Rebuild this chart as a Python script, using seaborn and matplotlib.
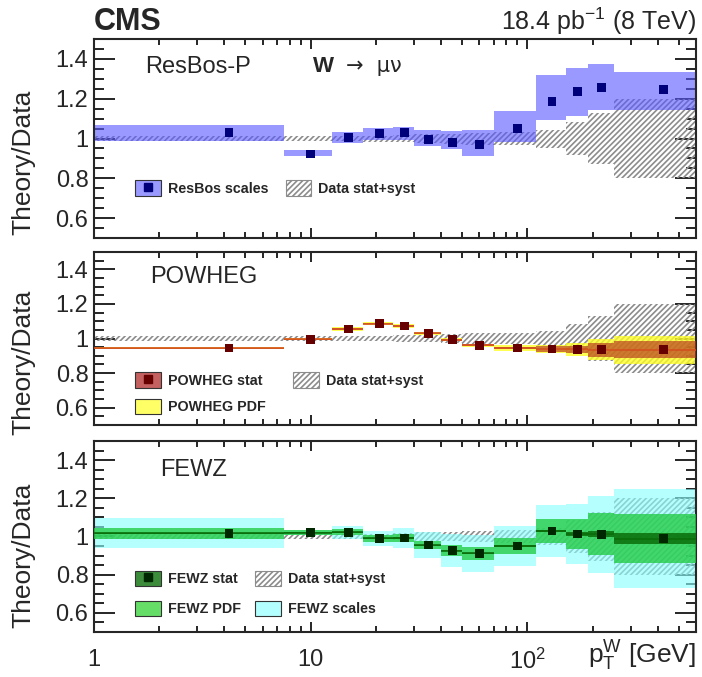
import matplotlib
matplotlib.use("Agg")
import matplotlib.pyplot as plt
import seaborn as sns
import numpy as np
from matplotlib.patches import Patch
from matplotlib.lines import Line2D
from matplotlib.ticker import LogLocator, MultipleLocator, NullFormatter

# -------- DATA --------
bin_edges = [1, 7.5, 12.5, 17.5, 24, 30, 40, 50, 70, 110, 150, 190, 250, 600]
x_center = [4.2, 10, 15, 20.75, 27, 35, 45, 60, 90, 130, 170, 220, 425]

# relative data uncertainty (stat+syst) around 1
data_err = [0.013, 0.013, 0.013, 0.015, 0.018, 0.022, 0.025, 0.03, 0.032, 0.045, 0.085, 0.13, 0.2]

# ResBos-P
resbos = [1.031, 0.922, 1.006, 1.026, 1.029, 0.995, 0.982, 0.972, 1.052, 1.185, 1.236, 1.255, 1.247]
resbos_lo = [0.989, 0.914, 0.979, 0.992, 0.995, 0.963, 0.945, 0.913, 0.983, 1.093, 1.114, 1.145, 1.143]
resbos_hi = [1.068, 0.944, 1.033, 1.054, 1.059, 1.043, 1.038, 1.043, 1.138, 1.319, 1.354, 1.374, 1.334]

# POWHEG
powheg = [0.945, 0.995, 1.055, 1.086, 1.072, 1.030, 0.993, 0.961, 0.945, 0.939, 0.937, 0.936, 0.935]
powheg_stat = [0.003, 0.003, 0.004, 0.004, 0.004, 0.004, 0.005, 0.006, 0.008, 0.015, 0.02, 0.04, 0.05]
powheg_pdf = [0.006, 0.006, 0.01, 0.01, 0.01, 0.01, 0.01, 0.01, 0.015, 0.022, 0.04, 0.06, 0.08]

# FEWZ
fewz = [1.017, 1.020, 1.022, 0.990, 0.992, 0.955, 0.926, 0.912, 0.950, 1.029, 1.013, 1.011, 0.989]
fewz_stat = [0.003, 0.003, 0.003, 0.003, 0.003, 0.003, 0.003, 0.003, 0.003, 0.004, 0.012, 0.016, 0.03]
fewz_pdf = [0.03, 0.013, 0.015, 0.02, 0.02, 0.023, 0.029, 0.034, 0.044, 0.063, 0.078, 0.11, 0.13]
fewz_scale = [0.078, 0.013, 0.035, 0.04, 0.05, 0.067, 0.085, 0.096, 0.105, 0.138, 0.156, 0.2, 0.26]

# -------- STYLE --------
sns.set_style("ticks")
plt.rcParams["font.family"] = ["Liberation Sans", "DejaVu Sans"]
plt.rcParams["mathtext.fontset"] = "custom"
plt.rcParams["mathtext.rm"] = "Liberation Sans"
plt.rcParams["mathtext.it"] = "Liberation Sans:italic"
plt.rcParams["mathtext.bf"] = "Liberation Sans:bold"
plt.rcParams["hatch.linewidth"] = 1.2

hatch_col = "#8c8c8c"
lo_e = np.array(bin_edges[:-1])
hi_e = np.array(bin_edges[1:])
widths = hi_e - lo_e
legend_font = {"family": "Liberation Sans", "weight": "bold", "size": 10.3}

fig = plt.figure(figsize=(7.02, 6.77), dpi=100)
ax1 = fig.add_axes([0.1339, 0.6484, 0.8575, 0.2939])
ax2 = fig.add_axes([0.1339, 0.3722, 0.8575, 0.2555])
ax3 = fig.add_axes([0.1339, 0.0665, 0.8575, 0.2821])


def band(ax, center, err, **kw):
    c = np.array(center)
    e = np.array(err)
    ax.bar(lo_e, 2 * e, bottom=c - e, width=widths, align="edge", linewidth=0, **kw)


def data_band(ax):
    band(ax, np.ones(len(data_err)), data_err, color="none", edgecolor=hatch_col,
         hatch="//////", zorder=1)


def style_axis(ax, ylabel_y, show_x=False):
    ax.set_xscale("log")
    ax.set_xlim(1, 600)
    ax.set_ylim(0.5, 1.5)
    ax.set_yticks([0.6, 0.8, 1.0, 1.2, 1.4], ["0.6", "0.8", "1", "1.2", "1.4"])
    ax.yaxis.set_minor_locator(MultipleLocator(0.05))
    ax.xaxis.set_minor_locator(LogLocator(base=10, subs=np.arange(2, 10)))
    ax.xaxis.set_minor_formatter(NullFormatter())
    ax.set_xticks([1, 10, 100])
    if show_x:
        ax.set_xticklabels(["1", "10", "10$^{2}$"])
    else:
        ax.set_xticklabels([])
    ax.tick_params(axis="both", which="both", direction="in", top=True, right=True,
                   labelsize=17, width=1.4, pad=4)
    ax.tick_params(axis="y", which="major", length=15)
    ax.tick_params(axis="y", which="minor", length=7.5)
    ax.tick_params(axis="x", which="major", length=7, pad=12)
    ax.tick_params(axis="x", which="minor", length=4)
    for sp in ax.spines.values():
        sp.set_linewidth(1.5)
    ax.set_ylabel("Theory/Data", fontsize=19)
    ax.yaxis.set_label_coords(-0.098, ylabel_y)


# -------- PANEL 1: ResBos --------
data_band(ax1)
ax1.bar(lo_e, np.array(resbos_hi) - np.array(resbos_lo), bottom=resbos_lo, width=widths,
        align="edge", color="#5555ff", alpha=0.6, linewidth=0, zorder=2)
sns.scatterplot(x=x_center, y=resbos, marker="s", s=40, color="#00007a", edgecolor="none",
                ax=ax1, zorder=5, legend=False)
style_axis(ax1, 0.38)
ax1.text(0.085, 0.86, "ResBos-P", transform=ax1.transAxes, fontsize=17, va="center")
ax1.text(0.363, 0.86, "W", transform=ax1.transAxes, fontsize=16, fontweight="bold", va="center")
ax1.text(0.418, 0.865, "\u2192  \u03bc\u03bd", transform=ax1.transAxes, fontsize=15,
         va="center", family=["DejaVu Sans"])
h1 = [(Patch(facecolor="#9999ff", edgecolor="#333333", linewidth=0.8),
       Line2D([], [], marker="s", color="#00007a", ls="none", ms=6)),
      Patch(facecolor="white", edgecolor=hatch_col, hatch="//////", linewidth=0.8)]
ax1.legend(h1, ["ResBos scales", "Data stat+syst"], ncol=2, loc="upper left",
           bbox_to_anchor=(0.068, 0.29), frameon=False, prop=legend_font,
           handlelength=1.8, handleheight=1.3, handletextpad=0.5, columnspacing=1.2,
           borderpad=0, borderaxespad=0)

# -------- PANEL 2: POWHEG --------
data_band(ax2)
band(ax2, powheg, powheg_pdf, color="#ffff22", alpha=0.78, zorder=2)
band(ax2, powheg, powheg_stat, color="#b4321e", alpha=0.65, zorder=3)
ax2.hlines(powheg, lo_e, hi_e, color="#d2501e", linewidth=1.2, zorder=3)
sns.scatterplot(x=x_center, y=powheg, marker="s", s=40, color="#660000", edgecolor="none",
                ax=ax2, zorder=5, legend=False)
style_axis(ax2, 0.36)
ax2.text(0.093, 0.855, "POWHEG", transform=ax2.transAxes, fontsize=17, va="center")
h2 = [(Patch(facecolor="#c46060", edgecolor="#333333", linewidth=0.8),
       Line2D([], [], marker="s", color="#660000", ls="none", ms=6)),
      Patch(facecolor="#ffff66", edgecolor="#333333", linewidth=0.8),
      Patch(facecolor="white", edgecolor=hatch_col, hatch="//////", linewidth=0.8)]
ax2.legend(h2, ["POWHEG stat", "POWHEG PDF", "Data stat+syst"], ncol=2, loc="upper left",
           bbox_to_anchor=(0.068, 0.305), frameon=False, prop=legend_font,
           handlelength=1.8, handleheight=1.3, handletextpad=0.5, columnspacing=1.9,
           labelspacing=0.75, borderpad=0, borderaxespad=0)

# -------- PANEL 3: FEWZ --------
data_band(ax3)
band(ax3, fewz, fewz_scale, color="#88ffff", alpha=0.62, zorder=2)
band(ax3, fewz, fewz_pdf, color="#22cc44", alpha=0.78, zorder=3)
band(ax3, fewz, fewz_stat, color="#0a6e0a", alpha=0.85, zorder=4)
ax3.hlines(fewz, lo_e, hi_e, color="#0a6e0a", linewidth=1.2, zorder=4)
sns.scatterplot(x=x_center, y=fewz, marker="s", s=40, color="#002800", edgecolor="none",
                ax=ax3, zorder=5, legend=False)
style_axis(ax3, 0.40, show_x=True)
ax3.text(0.11, 0.85, "FEWZ", transform=ax3.transAxes, fontsize=17, va="center")
h3 = [(Patch(facecolor="#3c8c3c", edgecolor="#333333", linewidth=0.8),
       Line2D([], [], marker="s", color="#002800", ls="none", ms=6)),
      Patch(facecolor="#66dd66", edgecolor="#333333", linewidth=0.8),
      Patch(facecolor="white", edgecolor=hatch_col, hatch="//////", linewidth=0.8),
      Patch(facecolor="#b3ffff", edgecolor="#333333", linewidth=0.8)]
ax3.legend(h3, ["FEWZ stat", "FEWZ PDF", "Data stat+syst", "FEWZ scales"], ncol=2,
           loc="upper left", bbox_to_anchor=(0.068, 0.32), frameon=False, prop=legend_font,
           handlelength=1.8, handleheight=1.3, handletextpad=0.5, columnspacing=1.0,
           labelspacing=1.0, borderpad=0, borderaxespad=0)
# x axis title sits on the tick-label row, right aligned (ROOT style)
ax3.text(1.0, -0.125, "p$_{\\mathrm{T}}^{\\mathrm{W}}$ [GeV]", transform=ax3.transAxes,
         fontsize=19, ha="right", va="center")

# -------- HEADER --------
fig.text(0.134, 0.968, "CMS", fontsize=22, fontweight="bold", va="center", ha="left")
fig.text(0.991, 0.968, "18.4 pb$^{-1}$ (8 TeV)", fontsize=18, va="center", ha="right")

fig.savefig("out.png", dpi=100)
